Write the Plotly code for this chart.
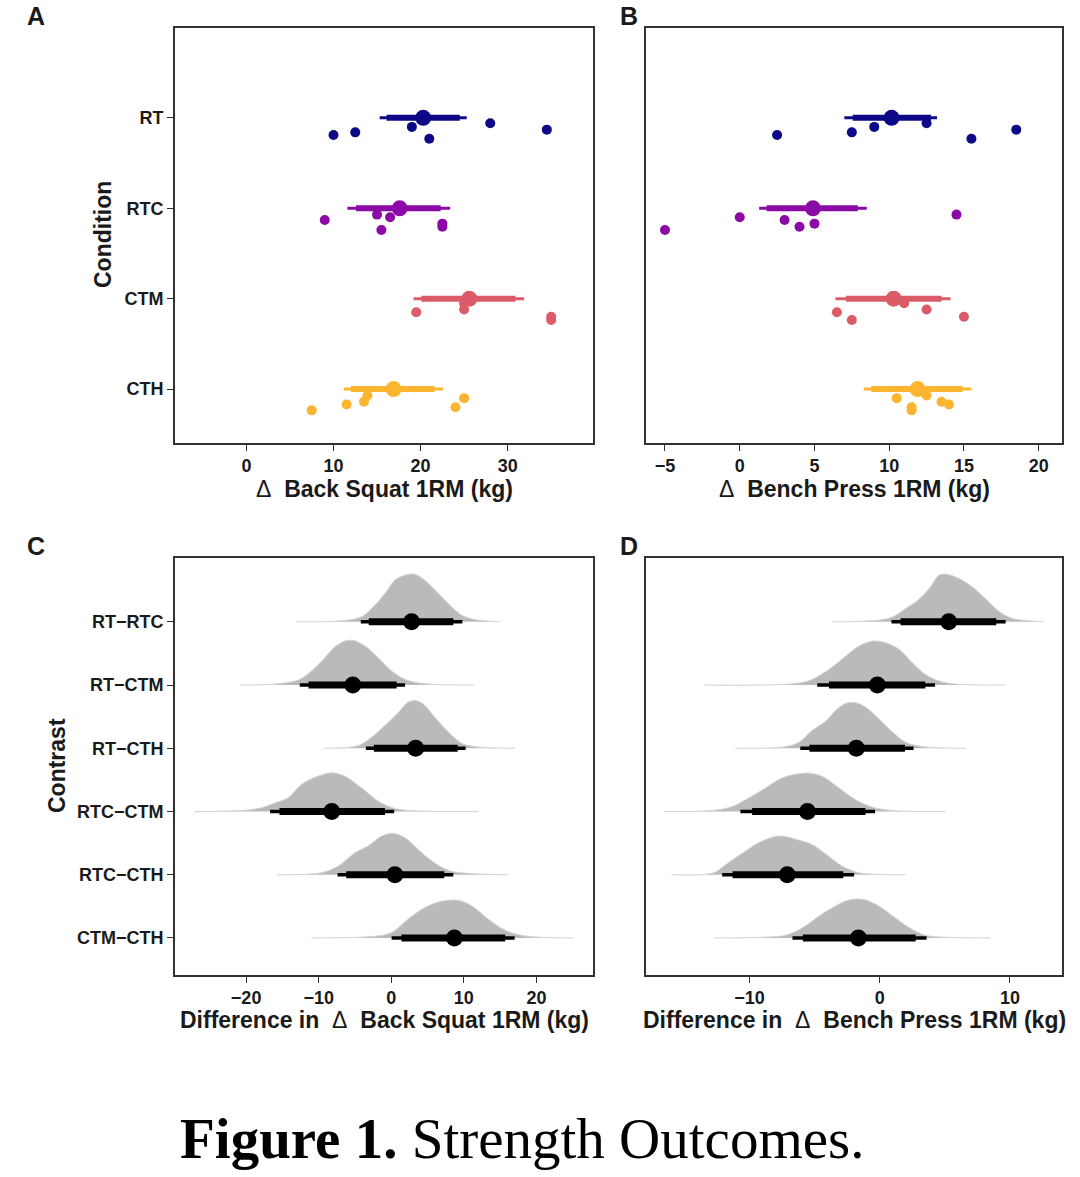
import plotly.graph_objects as go

# ---- data ----
conditions = ["RT", "RTC", "CTM", "CTH"]
cond_pos = [4, 3, 2, 1]

# participant jitter (below the interval), shared by both outcomes
jitter_rt = [0.19, 0.16, 0.10, 0.23, 0.06, 0.13]
jitter_rtc = [0.13, 0.07, 0.10, 0.24, 0.17, 0.205]
jitter_ctm = [0.15, 0.05, 0.12, 0.20, 0.235]
jitter_cth = [0.235, 0.17, 0.14, 0.07, 0.20, 0.10]

squat_rt = [10.0, 12.5, 19.0, 21.0, 28.0, 34.5]
squat_rtc = [9.0, 15.0, 16.5, 15.5, 22.5, 22.5]
squat_ctm = [19.5, 25.0, 25.0, 35.0, 35.0]
squat_cth = [7.5, 11.5, 13.5, 13.9, 24.0, 25.0]

bench_rt = [2.5, 7.5, 9.0, 15.5, 12.5, 18.5]
bench_rtc = [3.0, 14.5, 0.0, -5.0, 5.0, 4.0]
bench_ctm = [6.5, 11.0, 12.5, 15.0, 7.5]
bench_cth = [11.5, 14.0, 13.5, 12.5, 11.5, 10.5]

squat_median = [20.3, 17.6, 25.6, 16.9]
squat_lo66 = [16.1, 12.6, 20.1, 12.0]
squat_hi66 = [24.5, 22.3, 30.9, 21.6]
squat_lo95 = [15.3, 11.6, 19.2, 11.2]
squat_hi95 = [25.3, 23.4, 31.9, 22.6]

bench_median = [10.16, 4.9, 10.3, 11.9]
bench_lo66 = [7.56, 1.8, 7.1, 8.8]
bench_hi66 = [12.8, 7.9, 13.5, 14.9]
bench_lo95 = [7.0, 1.3, 6.4, 8.3]
bench_hi95 = [13.2, 8.5, 14.1, 15.5]

contrasts = ["RT−RTC", "RT−CTM", "RT−CTH", "RTC−CTM", "RTC−CTH", "CTM−CTH"]
contrast_pos = [6, 5, 4, 3, 2, 1]

dsquat_median = [2.8, -5.3, 3.36, -8.2, 0.5, 8.7]
dsquat_lo66 = [-3.1, -11.4, -2.4, -15.4, -6.2, 1.4]
dsquat_hi66 = [8.55, 0.74, 9.15, -0.87, 7.3, 15.7]
dsquat_lo95 = [-4.2, -12.6, -3.5, -16.7, -7.4, 0.05]
dsquat_hi95 = [9.8, 1.9, 10.25, 0.4, 8.55, 17.0]

dbench_median = [5.3, -0.18, -1.8, -5.55, -7.1, -1.64]
dbench_lo66 = [1.6, -3.9, -5.4, -9.8, -11.3, -5.9]
dbench_hi66 = [8.95, 3.5, 1.94, -1.1, -2.8, 2.76]
dbench_lo95 = [0.9, -4.8, -6.1, -10.7, -12.1, -6.7]
dbench_hi95 = [9.67, 4.25, 2.6, -0.36, -1.97, 3.6]

# posterior density outlines (x, relative density)
dsquat_slab_x = [
    [-13.1, -6.85, -4.1, -2.25, -0.87, 0.5, 1.9, 3.26, 4.6, 6.5, 8.3, 9.7, 11.5, 15.0],
    [-20.9, -16.0, -12.8, -11.0, -9.15, -7.8, -6.4, -5.2, -3.6, -1.8, 0.05, 1.9, 4.2, 11.5],
    [-9.4, -4.55, -2.7, -0.9, 1.0, 2.3, 3.3, 4.4, 6.0, 7.9, 9.7, 11.5, 17.1],
    [-27.1, -20.6, -17.9, -16.0, -14.2, -12.4, -10.1, -8.2, -6.4, -4.1, -1.8, 0.5, 3.3, 12.0],
    [-15.8, -9.6, -7.3, -5.0, -3.2, -1.3, 0.3, 1.9, 3.7, 5.6, 7.9, 10.6, 16.1],
    [-11.0, -2.25, 0.05, 2.3, 4.6, 6.9, 9.2, 11.1, 13.4, 15.7, 18.4, 25.1],
]
dsquat_slab_h = [
    [0, 3, 15, 50, 85, 125, 140, 143, 125, 85, 45, 20, 7, 0],
    [0, 3, 15, 42, 82, 114, 132, 134, 117, 82, 42, 17, 5, 0],
    [0, 8, 33, 68, 108, 138, 143, 133, 93, 48, 15, 5, 0],
    [0, 3, 11, 26, 41, 81, 106, 116, 106, 71, 31, 9, 2, 0],
    [0, 6, 26, 66, 86, 116, 124, 111, 76, 41, 13, 4, 0],
    [0, 5, 16, 56, 91, 110, 113, 96, 56, 23, 6, 0],
]
dbench_slab_x = [
    [-3.6, -0.05, 1.0, 2.0, 3.0, 3.8, 4.55, 5.1, 6.1, 7.1, 8.1, 9.2, 10.2, 11.5, 12.6],
    [-13.5, -6.4, -5.2, -3.9, -2.6, -1.6, -0.56, 0.46, 1.5, 2.5, 3.5, 4.55, 5.8, 9.67],
    [-11.1, -7.2, -6.2, -5.2, -4.1, -3.4, -2.6, -1.85, -1.07, -0.05, 1.0, 2.0, 3.3, 6.6],
    [-16.5, -12.8, -11.3, -10.3, -9.0, -7.7, -6.7, -5.4, -4.4, -3.1, -1.84, -0.56, 0.97, 5.1],
    [-16.0, -12.8, -11.8, -10.5, -9.3, -8.2, -7.5, -6.4, -5.2, -4.1, -2.9, -1.6, -0.05, 2.0],
    [-12.7, -9.0, -7.2, -5.9, -4.65, -3.4, -2.35, -1.33, -0.3, 1.0, 2.25, 3.5, 5.1, 8.5],
]
dbench_slab_h = [
    [0, 5, 15, 40, 67, 100, 140, 143, 130, 105, 70, 30, 10, 3, 0],
    [0, 5, 17, 47, 87, 117, 132, 127, 107, 67, 32, 12, 3, 0],
    [0, 5, 18, 53, 83, 113, 135, 137, 123, 88, 48, 18, 5, 0],
    [0, 3, 15, 35, 65, 97, 110, 115, 105, 70, 35, 13, 3, 0],
    [0, 5, 31, 66, 96, 113, 116, 106, 91, 61, 26, 6, 1, 0],
    [0, 2, 8, 31, 66, 96, 114, 116, 101, 66, 31, 8, 2, 0],
]

# ---- styling ----
colors = ["#0D0887", "#8B0AA5", "#DB5C68", "#FDB42F"]
W, H = 1080, 1177
FONT = "Liberation Sans, Arial, sans-serif"
INK = "#1a1a1a"

fig = go.Figure()

squat_pts = [squat_rt, squat_rtc, squat_ctm, squat_cth]
bench_pts = [bench_rt, bench_rtc, bench_ctm, bench_cth]
jitters = [jitter_rt, jitter_rtc, jitter_ctm, jitter_cth]


def add_condition_panel(xa, ya, pts, med, lo66, hi66, lo95, hi95):
    for i in range(len(conditions)):
        c = colors[i]
        y0 = cond_pos[i]
        fig.add_trace(go.Scatter(
            x=pts[i], y=[y0 - j for j in jitters[i]], mode="markers",
            marker=dict(size=10, color=c), xaxis=xa, yaxis=ya, hoverinfo="skip"))
        fig.add_trace(go.Scatter(
            x=[lo95[i], hi95[i]], y=[y0, y0], mode="lines",
            line=dict(color=c, width=3), xaxis=xa, yaxis=ya, hoverinfo="skip"))
        fig.add_trace(go.Scatter(
            x=[lo66[i], hi66[i]], y=[y0, y0], mode="lines",
            line=dict(color=c, width=6), xaxis=xa, yaxis=ya, hoverinfo="skip"))
        fig.add_trace(go.Scatter(
            x=[med[i]], y=[y0], mode="markers",
            marker=dict(size=16, color=c), xaxis=xa, yaxis=ya, hoverinfo="skip"))


def add_contrast_panel(xa, ya, sx, sh, med, lo66, hi66, lo95, hi95):
    hmax = max(max(h) for h in dsquat_slab_h + dbench_slab_h)
    scale = 0.754 / hmax
    for i in range(len(contrasts)):
        y0 = contrast_pos[i]
        fig.add_trace(go.Scatter(
            x=sx[i], y=[y0 + h * scale for h in sh[i]], mode="lines",
            fill="toself", fillcolor="#BABABA",
            line=dict(color="#d4d4d4", width=1, shape="spline", smoothing=0.9),
            xaxis=xa, yaxis=ya, hoverinfo="skip"))
        fig.add_trace(go.Scatter(
            x=[lo95[i], hi95[i]], y=[y0, y0], mode="lines",
            line=dict(color="black", width=3.5), xaxis=xa, yaxis=ya, hoverinfo="skip"))
        fig.add_trace(go.Scatter(
            x=[lo66[i], hi66[i]], y=[y0, y0], mode="lines",
            line=dict(color="black", width=7), xaxis=xa, yaxis=ya, hoverinfo="skip"))
        fig.add_trace(go.Scatter(
            x=[med[i]], y=[y0], mode="markers",
            marker=dict(size=17, color="black"), xaxis=xa, yaxis=ya, hoverinfo="skip"))


add_condition_panel("x", "y", squat_pts, squat_median, squat_lo66, squat_hi66, squat_lo95, squat_hi95)
add_condition_panel("x2", "y2", bench_pts, bench_median, bench_lo66, bench_hi66, bench_lo95, bench_hi95)
add_contrast_panel("x3", "y3", dsquat_slab_x, dsquat_slab_h, dsquat_median, dsquat_lo66,
                   dsquat_hi66, dsquat_lo95, dsquat_hi95)
add_contrast_panel("x4", "y4", dbench_slab_x, dbench_slab_h, dbench_median, dbench_lo66,
                   dbench_hi66, dbench_lo95, dbench_hi95)


# panel boxes in window pixels
def dx(l, r):
    return [l / W, r / W]


def dy(t, b):
    return [1 - b / H, 1 - t / H]


axis_common = dict(
    showline=True, mirror=True, linecolor="#333333", linewidth=1.6,
    ticks="outside", ticklen=6, tickwidth=1.3, tickcolor="#333333",
    showgrid=False, zeroline=False, fixedrange=True,
    tickfont=dict(family=FONT, size=18, color=INK, weight="bold"),
)

fig.update_layout(
    width=W, height=H, margin=dict(l=0, r=0, t=0, b=0),
    paper_bgcolor="white", plot_bgcolor="white", showlegend=False,
    font=dict(family=FONT, color=INK),
    xaxis=dict(axis_common, domain=dx(175, 593), anchor="y", range=[-8.2, 39.8],
               tickvals=[0, 10, 20, 30]),
    yaxis=dict(axis_common, domain=dy(28, 443), anchor="x", range=[0.404, 4.994],
               tickvals=cond_pos, ticktext=conditions),
    xaxis2=dict(axis_common, domain=dx(646, 1062), anchor="y2", range=[-6.27, 21.56],
                tickvals=[-5, 0, 5, 10, 15, 20]),
    yaxis2=dict(axis_common, domain=dy(28, 443), anchor="x2", range=[0.404, 4.994],
                showticklabels=False, ticks=""),
    xaxis3=dict(axis_common, domain=dx(175, 593), anchor="y3", range=[-29.8, 27.8],
                tickvals=[-20, -10, 0, 10, 20]),
    yaxis3=dict(axis_common, domain=dy(558, 975), anchor="x3", range=[0.414, 7.01],
                tickvals=contrast_pos, ticktext=contrasts),
    xaxis4=dict(axis_common, domain=dx(646, 1062), anchor="y4", range=[-17.95, 14.0],
                tickvals=[-10, 0, 10]),
    yaxis4=dict(axis_common, domain=dy(558, 975), anchor="x4", range=[0.414, 7.01],
                showticklabels=False, ticks=""),
)

sp = "\u00a0\u00a0"
labels = [
    ("<b>C</b>", 36, 546, 25, 0),
    ("<b>D</b>", 629, 546, 25, 0),
    ("Δ" + sp + "<b>Back Squat 1RM (kg)</b>", 384, 489, 23, 0),
    ("Δ" + sp + "<b>Bench Press 1RM (kg)</b>", 854, 489, 23, 0),
    ("<b>Difference in</b>" + sp + "Δ" + sp + "<b>Back Squat 1RM (kg)</b>", 384, 1020, 23, 0),
    ("<b>Difference in</b>" + sp + "Δ" + sp + "<b>Bench Press 1RM (kg)</b>", 854, 1020, 23, 0),
    ("<b>Condition</b>", 103, 235, 23, -90),
    ("<b>Contrast</b>", 57, 766, 23, -90),
]
for text, px, py, size, ang in labels:
    fig.add_annotation(text=text, x=px / W, y=1 - py / H,
                       xref="paper", yref="paper",
                       showarrow=False, xanchor="center", yanchor="middle", textangle=ang,
                       font=dict(family=FONT, size=size, color=INK))

# top panel letters hug the top edge
for text, px in [("<b>A</b>", 36), ("<b>B</b>", 629)]:
    fig.add_annotation(text=text, x=px / W, y=1, xref="paper", yref="paper",
                       showarrow=False, xanchor="center", yanchor="top",
                       font=dict(family=FONT, size=25, color=INK))

fig.add_annotation(
    text="<b>Figure 1.</b> Strength Outcomes.", x=178 / W, y=1 - 1138 / H,
    xref="paper", yref="paper", showarrow=False, xanchor="left", yanchor="middle",
    font=dict(family="Liberation Serif, Times New Roman, serif", size=57, color="black"))

# drop the default 8px page margin so the figure fills the window exactly
fig.write_html("out.html", config={"displayModeBar": False},
               post_script="document.body.style.margin='0px';")
